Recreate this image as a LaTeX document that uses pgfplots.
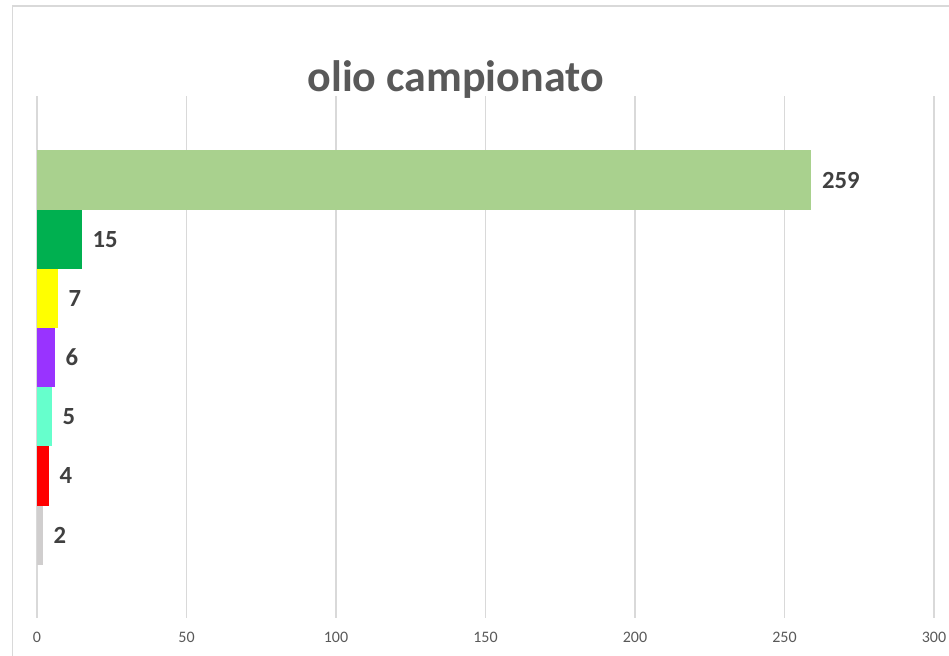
\documentclass[border=0pt]{standalone}
\usepackage{fontspec}
\setmainfont{Carlito}
\usepackage{pgfplots}
\pgfplotsset{compat=1.18}

\definecolor{cA}{HTML}{A9D18E}
\definecolor{cB}{HTML}{00B050}
\definecolor{cC}{HTML}{FFFF00}
\definecolor{cD}{HTML}{9933FF}
\definecolor{cE}{HTML}{66FFCC}
\definecolor{cF}{HTML}{FF0000}
\definecolor{cG}{HTML}{D0CECE}
\definecolor{gridc}{HTML}{D9D9D9}
\definecolor{framec}{HTML}{D9D9D9}
\definecolor{tickc}{HTML}{595959}
\definecolor{labc}{HTML}{404040}

\begin{document}
\begin{tikzpicture}
\useasboundingbox (-27.75pt,-28.5pt) rectangle (684pt,463.5pt);
\draw[framec, line width=1.3pt] (-18.4pt,-80pt) rectangle (720pt,459pt);
\begin{axis}[
    at={(0,0)}, anchor=south west,
    scale only axis, width=672.75pt, height=391.5pt,
    xbar, bar width=1,
    xmin=0, xmax=300, ymin=-1.4, ymax=7.42,
    xtick={0,50,...,300}, ytick=\empty,
    axis line style={draw=none}, major tick length=0pt,
    xmajorgrids, grid style={gridc, line width=0.8pt},
    xticklabel style={font=\fontsize{12}{14}\selectfont, text=tickc, yshift=-7pt},
    /pgf/number format/assume math mode=true,
    point meta=x,
    nodes near coords,
    nodes near coords style={font=\fontsize{18.5}{20}\selectfont\bfseries, text=labc, anchor=west, xshift=4.5pt},
]
\addplot[bar shift=0pt, fill=cA, draw=none] coordinates {(259,6)};
\addplot[bar shift=0pt, fill=cB, draw=none] coordinates {(15,5)};
\addplot[bar shift=0pt, fill=cC, draw=none] coordinates {(7,4)};
\addplot[bar shift=0pt, fill=cD, draw=none] coordinates {(6,3)};
\addplot[bar shift=0pt, fill=cE, draw=none] coordinates {(5,2)};
\addplot[bar shift=0pt, fill=cF, draw=none] coordinates {(4,1)};
\addplot[bar shift=0pt, fill=cG, draw=none] coordinates {(2,0)};
\end{axis}
\node[anchor=base, font=\fontsize{33}{38}\selectfont\bfseries, text=tickc] at (314pt,394.5pt) {olio campionato};
\end{tikzpicture}
\end{document}
